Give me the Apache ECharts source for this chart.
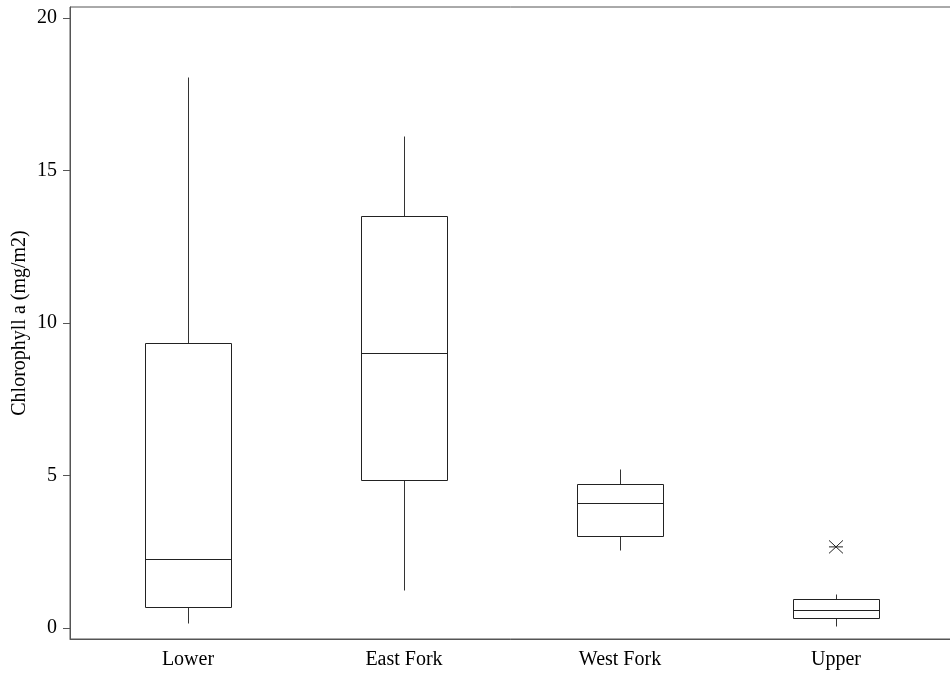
<!DOCTYPE html>
<html>
<head>
<meta charset="utf-8">
<script src="https://cdn.jsdelivr.net/npm/echarts@6/dist/echarts.min.js"></script>
<style>html,body{margin:0;padding:0;background:#fff}#c{width:950px;height:675px}</style>
</head>
<body>
<div id="c"></div>
<script>
var categories = ['Lower', 'East Fork', 'West Fork', 'Upper'];
var whiskerLow = [0.16, 1.25, 2.56, 0.07];
var q1 = [0.69, 4.85, 3.02, 0.32];
var median = [2.26, 9.02, 4.09, 0.58];
var q3 = [9.34, 13.51, 4.71, 0.94];
var whiskerHigh = [18.07, 16.13, 5.21, 1.11];
var outlierCategory = ['Upper'];
var outlierValue = [2.66];
var yTicks = [0, 5, 10, 15, 20];

var boxData = categories.map(function (c, i) {
  return [i + 1, whiskerLow[i], q1[i], median[i], q3[i], whiskerHigh[i]];
});
var outData = outlierCategory.map(function (c, i) {
  return [categories.indexOf(c) + 1, outlierValue[i]];
});

function px(v) { return Math.round(v) + 0.5; }

var chart = echarts.init(document.getElementById('c'));
chart.setOption({
  animation: false,
  grid: { left: 70, right: -4, top: 7, bottom: 36, containLabel: false, outerBoundsMode: 'none', show: true, borderColor: '#555', borderWidth: 1, backgroundColor: 'transparent' },
  xAxis: {
    type: 'value', min: 0.4537, max: 4.5463,
    splitLine: { show: false },
    axisLine: { show: true, onZero: false, lineStyle: { color: '#555', width: 1 } },
    axisTick: { show: false },
    axisLabel: {
      customValues: [1, 2, 3, 4],
      formatter: function (v) { return categories[Math.round(v) - 1] || ''; },
      color: '#000', fontFamily: 'Liberation Serif', fontSize: 20, margin: 11
    }
  },
  yAxis: {
    type: 'value', min: -0.36, max: 20.36,
    name: 'Chlorophyll a (mg/m2)', nameLocation: 'middle', nameGap: 40, nameMoveOverlap: false,
    nameTextStyle: { fontFamily: 'Liberation Serif', fontSize: 20, color: '#000' },
    splitLine: { show: false },
    axisLine: { show: true, onZero: false, lineStyle: { color: '#555', width: 1 } },
    axisTick: { show: true, customValues: yTicks, length: 7, lineStyle: { color: '#555' } },
    axisLabel: { customValues: yTicks, color: '#000', fontFamily: 'Liberation Serif', fontSize: 20, margin: 13 }
  },
  series: [{
    type: 'custom',
    data: boxData,
    encode: { x: 0, y: [1, 2, 3, 4, 5] },
    renderItem: function (params, api) {
      var x = api.value(0);
      var half = api.size([0.4, 0])[0] / 2;
      var cx = api.coord([x, 0])[0];
      var yl = api.coord([x, api.value(1)])[1];
      var y1 = api.coord([x, api.value(2)])[1];
      var ym = api.coord([x, api.value(3)])[1];
      var y3 = api.coord([x, api.value(4)])[1];
      var yh = api.coord([x, api.value(5)])[1];
      var L = px(cx - half), R = px(cx + half), C = px(cx);
      var st = { stroke: '#222', lineWidth: 1, fill: null };
      var ws = { stroke: '#333', lineWidth: 1 };
      return {
        type: 'group',
        children: [
          { type: 'line', shape: { x1: C, y1: px(yh), x2: C, y2: px(y3) }, style: ws },
          { type: 'line', shape: { x1: C, y1: px(y1), x2: C, y2: px(yl) }, style: ws },
          { type: 'rect', shape: { x: L, y: px(y3), width: R - L, height: px(y1) - px(y3) }, style: st },
          { type: 'line', shape: { x1: L, y1: px(ym), x2: R, y2: px(ym) }, style: st }
        ]
      };
    }
  }, {
    type: 'custom',
    data: outData,
    encode: { x: 0, y: 1 },
    renderItem: function (params, api) {
      var p = api.coord([api.value(0), api.value(1)]);
      var w = 7, h = 6.5;
      var s = { stroke: '#222', lineWidth: 1 };
      return {
        type: 'group',
        children: [
          { type: 'line', shape: { x1: p[0] - w, y1: p[1] - h, x2: p[0] + w, y2: p[1] + h }, style: s },
          { type: 'line', shape: { x1: p[0] - w, y1: p[1] + h, x2: p[0] + w, y2: p[1] - h }, style: s },
          { type: 'line', shape: { x1: p[0] - w, y1: p[1], x2: p[0] + w, y2: p[1] }, style: s }
        ]
      };
    }
  }]
});
</script>
</body>
</html>
